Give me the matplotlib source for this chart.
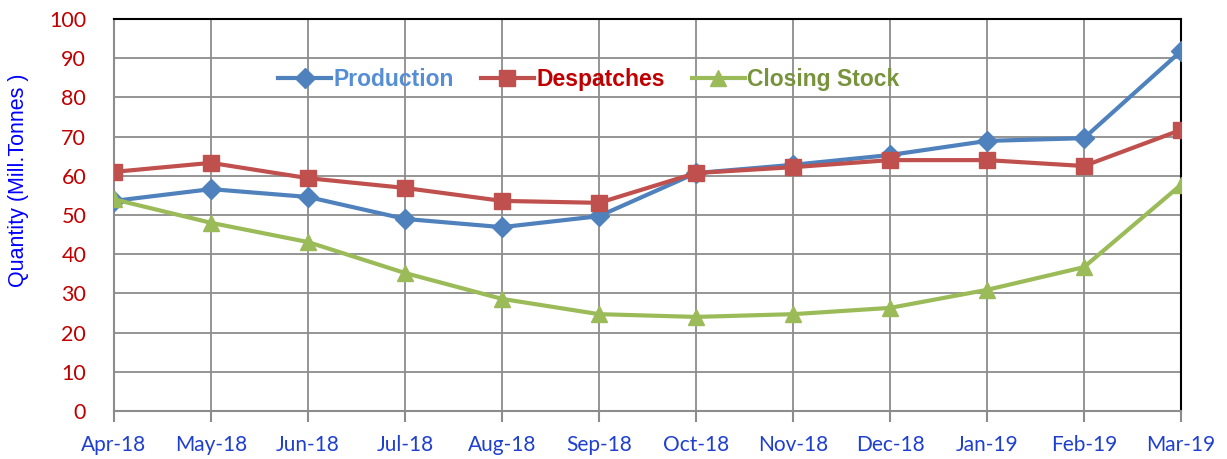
import matplotlib
matplotlib.use("Agg")
import matplotlib.pyplot as plt
import numpy as np

months = ['Apr-18', 'May-18', 'Jun-18', 'Jul-18', 'Aug-18', 'Sep-18',
          'Oct-18', 'Nov-18', 'Dec-18', 'Jan-19', 'Feb-19', 'Mar-19']
production = [53.6, 56.6, 54.6, 49.0, 46.9, 49.7, 60.7, 62.8, 65.3, 68.9, 69.6, 91.8]
despatches = [61.0, 63.3, 59.4, 56.9, 53.6, 53.1, 60.7, 62.2, 64.0, 64.0, 62.5, 71.7]
closing_stock = [54.0, 48.0, 43.1, 35.2, 28.6, 24.7, 24.0, 24.7, 26.3, 30.9, 36.7, 57.7]

plt.rcParams['font.family'] = ['Lato', 'DejaVu Sans']

fig = plt.figure(figsize=(12.27, 4.59), dpi=100)
ax = fig.add_axes([0.0929, 0.1046, 0.8696, 0.854])
x = np.arange(len(months))

ax.plot(x, production, color='#4F81BD', lw=3, marker='D', ms=10.5, label='Production', zorder=3)
ax.plot(x, despatches, color='#C0504D', lw=3, marker='s', ms=12, label='Despatches', zorder=3)
ax.plot(x, closing_stock, color='#9BBB59', lw=3, marker='^', ms=12, label='Closing Stock', zorder=4)

ax.set_xlim(0, len(months) - 1)
ax.set_ylim(0, 100)
ax.set_yticks(range(0, 101, 10))
ax.set_xticks(x)
ax.set_xticklabels(months)
ax.grid(True, color='#8C8C8C', lw=1.3)
ax.set_axisbelow(True)

for s in ['left', 'bottom']:
    ax.spines[s].set_color('#8C8C8C')
    ax.spines[s].set_linewidth(1.5)
for s in ['top', 'right']:
    ax.spines[s].set_color('black')
    ax.spines[s].set_linewidth(1.5)

ax.tick_params(axis='y', colors='#C00000', labelsize=15.5, length=0, pad=20)
ax.tick_params(axis='x', colors='#8C8C8C', labelcolor='#1F3FCF', labelsize=15,
               length=8, width=1.5, pad=9, direction='out')
ax.set_ylabel('Quantity (Mill.Tonnes )', color='#0000FF', fontsize=15.5,
              family=['Liberation Sans', 'DejaVu Sans'])
ax.yaxis.set_label_coords(-0.080, 0.589)

leg = ax.legend(loc='upper center', bbox_to_anchor=(0.445, 0.927), ncol=3, frameon=False,
                handlelength=2.3, handletextpad=0.1, columnspacing=1.2,
                prop={'family': ['Liberation Sans Narrow', 'Liberation Sans', 'DejaVu Sans'],
                      'weight': 'bold', 'size': 16.5})
for t, c in zip(leg.get_texts(), ['#558ED5', '#C00000', '#77933C']):
    t.set_color(c)

fig.savefig('out.png', dpi=100)
